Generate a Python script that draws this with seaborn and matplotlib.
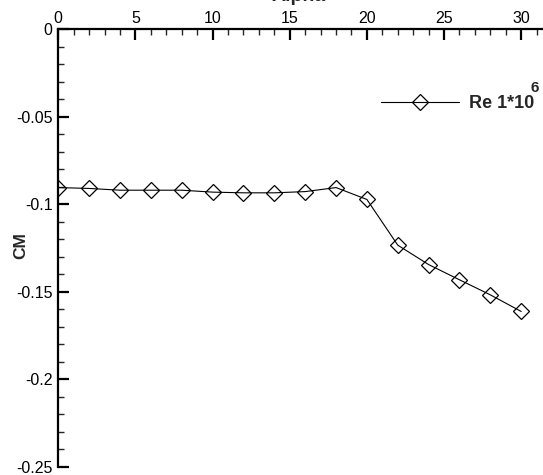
import matplotlib
matplotlib.use("Agg")
import matplotlib.pyplot as plt
import seaborn as sns
import pandas as pd
from matplotlib.ticker import MultipleLocator
from matplotlib.lines import Line2D

alpha = [0, 2, 4, 6, 8, 10, 12, 14, 16, 18, 20, 22, 24, 26, 28, 30]
cm = [-0.0905, -0.0910, -0.0920, -0.0920, -0.0920, -0.0931, -0.0935, -0.0935,
      -0.0928, -0.0905, -0.0973, -0.1234, -0.1345, -0.1432, -0.1518, -0.1613]
series_label = "Re 1*10"
series_exponent = "6"

sns.set_style("white")
plt.rcParams['font.family'] = ['Liberation Sans', 'DejaVu Sans']

df = pd.DataFrame({"Alpha": alpha, "CM": cm})

fig = plt.figure(figsize=(5.43, 4.75), dpi=100)
W, H = 543, 475
x0, y0top, y0bot = 58.3, 29.2, 466.7
pxu = 15.43
xmax = 33
ax = fig.add_axes([x0 / W, (H - y0bot) / H, xmax * pxu / W, (y0bot - y0top) / H])

sns.lineplot(data=df, x="Alpha", y="CM", ax=ax, color="black", lw=0.8,
             marker="D", markersize=8.5, markerfacecolor="none",
             markeredgecolor="black", markeredgewidth=0.9, legend=False)

ax.set_xlim(0, xmax)
ax.set_ylim(-0.25, 0)
ax.xaxis.set_major_locator(MultipleLocator(5))
ax.xaxis.set_minor_locator(MultipleLocator(1))
ax.yaxis.set_major_locator(MultipleLocator(0.05))
ax.yaxis.set_minor_locator(MultipleLocator(0.01))
ax.xaxis.tick_top()
ax.xaxis.set_label_position('top')
ax.tick_params(axis='both', which='major', direction='in', length=8, width=1.6,
               colors='black')
ax.tick_params(axis='x', which='major', labelsize=11.5)
ax.tick_params(axis='y', which='major', labelsize=11.5)
ax.tick_params(axis='both', which='minor', direction='in', length=4.5, width=1.0)
ax.tick_params(axis='x', which='both', top=True, bottom=False, pad=2)
ax.tick_params(axis='y', which='both', left=True, right=False, pad=4)
ax.yaxis.set_major_formatter(plt.FuncFormatter(
    lambda v, p: ('%g' % round(v, 4)) if abs(v) > 1e-9 else '0'))

for s in ['bottom', 'right']:
    ax.spines[s].set_visible(False)
for s in ['top', 'left']:
    ax.spines[s].set_linewidth(1.6)
    ax.spines[s].set_color('black')

ax.set_xlabel("Alpha", fontsize=14, fontweight='bold')
ax.xaxis.set_label_coords(299 / W, 1 - 1 / H, transform=fig.transFigure)
ax.set_ylabel("CM", fontsize=12.5, fontweight='bold')
ax.yaxis.set_label_coords(28 / W, 1 - 246 / H, transform=fig.transFigure)

handle = Line2D([], [], color='black', lw=0.8, marker='D', markersize=8.5,
                markerfacecolor='none', markeredgecolor='black', markeredgewidth=0.9)
leg = ax.legend([handle], [series_label], loc='center left',
                bbox_to_anchor=(381 / W, 1 - 104 / H), bbox_transform=fig.transFigure,
                frameon=False, borderpad=0, borderaxespad=0, handlelength=4.3,
                handletextpad=0.6, prop={'size': 13, 'weight': 'bold'})

fig.canvas.draw()
bb = leg.get_texts()[0].get_window_extent()
fig.text((bb.x1 - 4) / W, (bb.y1 + 1) / H, series_exponent, fontsize=11,
         fontweight='bold', ha='left', va='bottom')

fig.savefig("out.png", dpi=100)
